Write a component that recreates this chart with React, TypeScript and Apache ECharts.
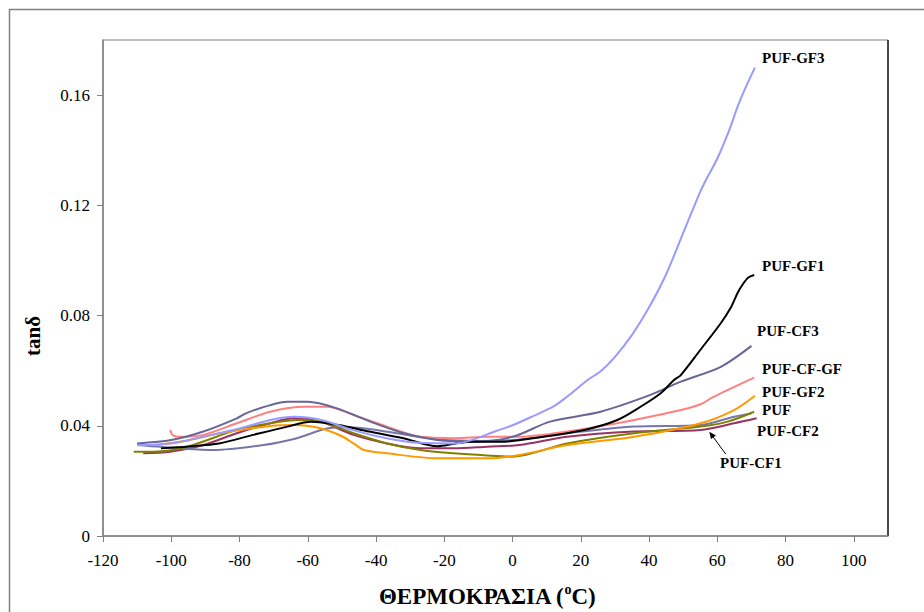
import React, { useEffect, useRef } from "react";
import * as echarts from "echarts";

type Pt = [number, number];

const seriesNames = ["PUF-GF3", "PUF-GF1", "PUF-CF3", "PUF-CF-GF", "PUF-GF2", "PUF", "PUF-CF2", "PUF-CF1"];
const seriesColors = ["#9999FF", "#000000", "#666699", "#FF8080", "#FF9900", "#808000", "#7676A8", "#993366"];

const pufGF3: Pt[] = [
  [-110, 0.033], [-100, 0.0336], [-90, 0.0362], [-80, 0.039], [-71, 0.0421], [-64, 0.0433], [-56, 0.0421],
  [-47, 0.0385], [-37, 0.0355], [-27, 0.0338], [-17, 0.0336], [-12, 0.0348], [-5, 0.038], [0, 0.0402],
  [6, 0.0435], [12, 0.047], [16, 0.0506], [22, 0.0566], [26, 0.06], [30, 0.065], [35, 0.073], [40, 0.083],
  [45, 0.095], [50, 0.11], [55, 0.125], [57, 0.13], [60, 0.137], [63.4, 0.147], [66, 0.156], [68, 0.162], [71, 0.17],
];
const pufGF1: Pt[] = [
  [-103, 0.0318], [-95, 0.0325], [-86, 0.0336], [-76, 0.0367], [-66, 0.0397], [-59, 0.0415], [-51, 0.0403],
  [-42, 0.0379], [-32, 0.0355], [-22, 0.0326], [-17, 0.0335], [-12, 0.0342], [-3.5, 0.0342], [6, 0.0355],
  [21, 0.0385], [30.7, 0.0421], [37.5, 0.0469], [43.4, 0.0518], [47.3, 0.0566], [49.3, 0.0584], [55, 0.0675],
  [61, 0.0772], [64, 0.083], [65.4, 0.0868], [66.4, 0.0893], [68.8, 0.0935], [70.8, 0.0947],
];
const pufCF3: Pt[] = [
  [-110, 0.0336], [-100, 0.0348], [-90.6, 0.0379], [-80.8, 0.0427], [-77.8, 0.0447], [-71, 0.0475], [-66, 0.0487],
  [-60, 0.0487], [-51.4, 0.0463], [-41.7, 0.0415], [-31.9, 0.0373], [-22, 0.0348], [-12, 0.0342], [0, 0.036],
  [11, 0.0415], [25.8, 0.0451], [40.4, 0.0512], [49.3, 0.056], [61, 0.0614], [70, 0.069],
];
const pufCFGF: Pt[] = [
  [-100.3, 0.0385], [-99.5, 0.0365], [-97, 0.036], [-90.6, 0.0367], [-80.8, 0.0409], [-71, 0.0451], [-61.2, 0.0469],
  [-54.4, 0.0469], [-46.6, 0.0439], [-36.8, 0.0397], [-27, 0.036], [-17.2, 0.0355], [-7.4, 0.036], [2, 0.036],
  [16, 0.0379], [35.6, 0.0421], [49.3, 0.0457], [55.1, 0.0478], [59, 0.0506], [70.8, 0.0575],
];
const pufGF2: Pt[] = [
  [-105, 0.033], [-96, 0.0345], [-85.7, 0.0373], [-71, 0.0399], [-64.2, 0.0403], [-56.3, 0.0391], [-50, 0.0362],
  [-46.5, 0.0335], [-43.5, 0.0312], [-36.8, 0.03], [-22, 0.0282], [-7.4, 0.0282], [2, 0.0294], [16, 0.033],
  [35.6, 0.036], [55.1, 0.0409], [64.9, 0.0457], [71, 0.0509],
];
const puf: Pt[] = [
  [-111, 0.0306], [-105, 0.0306], [-95.4, 0.0324], [-80.8, 0.0385], [-71, 0.0409], [-63.2, 0.0421], [-56.3, 0.0415],
  [-46.6, 0.0373], [-36.8, 0.0336], [-27, 0.0312], [-17.2, 0.03], [-7.4, 0.0292], [0, 0.0288], [16, 0.0336],
  [35.6, 0.0373], [55.1, 0.0397], [63, 0.0415], [70.8, 0.0451],
];
const pufCF2: Pt[] = [
  [-110, 0.033], [-97.4, 0.0318], [-87.6, 0.0312], [-73, 0.033], [-63.2, 0.0355], [-54.4, 0.039], [-48, 0.0395],
  [-40, 0.0385], [-30, 0.0365], [-20, 0.0348], [-10, 0.0345], [0, 0.0348], [16, 0.0373], [35.6, 0.0397],
  [55.1, 0.0403], [64.9, 0.0433], [70, 0.0445],
];
const pufCF1: Pt[] = [
  [-108.2, 0.03], [-100.3, 0.0306], [-90.6, 0.033], [-80.8, 0.0373], [-71, 0.0409], [-64.2, 0.0427], [-56.3, 0.0415],
  [-46.6, 0.0367], [-36.8, 0.0336], [-27, 0.0318], [-17.2, 0.0318], [-7.4, 0.0324], [2, 0.033], [16, 0.036],
  [35.6, 0.0379], [55.1, 0.0385], [64.9, 0.0409], [71.5, 0.0427],
];
const seriesData: Pt[][] = [pufGF3, pufGF1, pufCF3, pufCFGF, pufGF2, puf, pufCF2, pufCF1];

const xTitle = "ΘΕΡΜΟΚΡΑΣΙΑ (";
const yTitle = "tanδ";

const FONT = "Liberation Serif";

// label positions in pixels (left x, middle y)
const labelPos: [number, number][] = [
  [762, 58], [762, 266], [757, 331], [762, 369], [762, 392], [762, 410], [757, 431], [720, 463],
];

export default function App() {
  const ref = useRef<HTMLDivElement>(null);
  useEffect(() => {
    if (!ref.current) return;
    const chart = echarts.init(ref.current, null, { renderer: "svg" });
    const labelEls: any[] = seriesNames.map((n, i) => ({
      type: "text",
      x: labelPos[i][0],
      y: labelPos[i][1],
      style: {
        text: n,
        fontFamily: FONT,
        fontSize: 15,
        fontWeight: "bold",
        fill: "#000",
        verticalAlign: "middle",
        align: "left",
      },
    }));
    chart.setOption({
      animation: false,
      backgroundColor: "#fff",
      textStyle: { fontFamily: FONT },
      grid: {
        left: 103,
        top: 40,
        right: 36,
        bottom: 76,
        show: true,
        borderColor: "#808080",
        borderWidth: 1,
      },
      xAxis: {
        type: "value",
        min: -120,
        max: 110,
        interval: 20,
        splitLine: { show: false },
        axisLine: { onZero: false, lineStyle: { color: "#808080", width: 1.5 } },
        axisTick: { show: true, length: 6, lineStyle: { color: "#808080" } },
        axisLabel: {
          showMaxLabel: false,
          margin: 16,
          color: "#000",
          fontFamily: FONT,
          fontSize: 17,
        },
      },
      yAxis: {
        type: "value",
        min: 0,
        max: 0.18,
        interval: 0.04,
        splitLine: { show: false },
        axisLine: { show: true, onZero: false, lineStyle: { color: "#808080", width: 1.5 } },
        axisTick: { show: true, length: 6, lineStyle: { color: "#808080" } },
        axisLabel: {
          showMaxLabel: false,
          margin: 13,
          color: "#000",
          fontFamily: FONT,
          fontSize: 17,
          formatter: (v: number) => (v === 0 ? "0" : v.toFixed(2)),
        },
      },
      series: seriesNames.map((n, i) => ({
        name: n,
        type: "line",
        data: seriesData[i],
        showSymbol: false,
        symbol: "none",
        smooth: 0.3,
        lineStyle: { color: seriesColors[i], width: 2 },
        z: 10 - i,
      })),
      graphic: [
        {
          type: "rect",
          shape: { x: 9.5, y: 9.5, width: 1000, height: 1000 },
          style: { fill: "none", stroke: "#808080", lineWidth: 1.5 },
          silent: true,
          z: -10,
        },
        {
          type: "line",
          shape: { x1: 888, y1: 40, x2: 888, y2: 536 },
          style: { stroke: "#222", lineWidth: 1.5 },
        },
        ...labelEls,
        {
          type: "line",
          shape: { x1: 725.7, y1: 454, x2: 711.5, y2: 434.7 },
          style: { stroke: "#000", lineWidth: 1 },
        },
        {
          type: "polygon",
          shape: { points: [[709.3, 431.7], [715.9, 435.6], [711.0, 439.1]] },
          style: { fill: "#000" },
        },
        {
          type: "text",
          x: 487,
          y: 596,
          style: {
            text: `{a|${xTitle}}{s|o}{a|C)}`,
            align: "center",
            verticalAlign: "middle",
            rich: {
              a: { fontFamily: FONT, fontSize: 23, fontWeight: "bold", fill: "#000" },
              s: { fontFamily: FONT, fontSize: 14, fontWeight: "bold", fill: "#000", padding: [0, 0, 13, 0] },
            },
          },
        },
        {
          type: "text",
          x: 33,
          y: 336,
          rotation: Math.PI / 2,
          style: {
            text: yTitle,
            fontFamily: FONT,
            fontSize: 21,
            fontWeight: "bold",
            fill: "#000",
            align: "center",
            verticalAlign: "middle",
          },
        },
      ],
    });
    return () => chart.dispose();
  }, []);
  return (
    <div
      ref={ref}
      style={{ position: "absolute", left: 0, top: 0, width: 924, height: 612 }}
    />
  );
}
